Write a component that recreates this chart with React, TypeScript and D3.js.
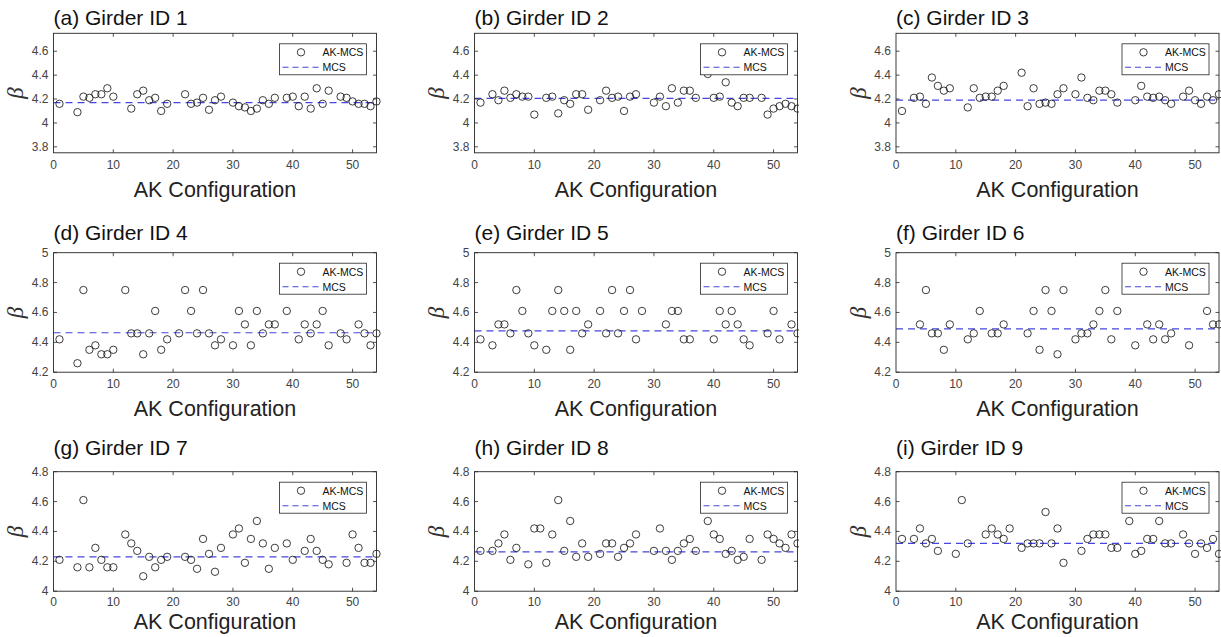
import React from "react";
import * as d3 from "d3";

// ---------- data ----------
const panelTitles = [
  "(a) Girder ID 1", "(b) Girder ID 2", "(c) Girder ID 3",
  "(d) Girder ID 4", "(e) Girder ID 5", "(f) Girder ID 6",
  "(g) Girder ID 7", "(h) Girder ID 8", "(i) Girder ID 9",
];
const xLabel = "AK Configuration";
const legendLabels = ["AK-MCS", "MCS"];
const xTicks = [0, 10, 20, 30, 40, 50];
const xDomain = [0, 54];
const rowYDomains = [[3.75, 4.75], [4.2, 5], [4, 4.8]];
const rowYTicks = [[3.8, 4, 4.2, 4.4, 4.6], [4.2, 4.4, 4.6, 4.8, 5], [4, 4.2, 4.4, 4.6, 4.8]];

const g1Config = [1,4,5,6,7,8,9,10,13,14,15,16,17,18,19,22,23,24,25,26,27,28,30,31,32,33,34,35,36,37,39,40,41,42,43,44,45,46,48,49,50,51,52,53,54];
const g1Beta = [4.16,4.09,4.22,4.21,4.24,4.24,4.29,4.22,4.12,4.24,4.27,4.19,4.21,4.10,4.16,4.24,4.16,4.17,4.21,4.11,4.19,4.22,4.17,4.14,4.13,4.10,4.12,4.19,4.16,4.21,4.21,4.22,4.14,4.22,4.12,4.29,4.16,4.27,4.22,4.21,4.18,4.16,4.16,4.14,4.18];

const g2Config = [1,3,4,5,6,7,8,9,10,12,13,14,15,16,17,18,19,21,22,23,24,25,26,27,30,31,32,33,34,35,36,37,39,40,41,42,43,44,45,46,48,49,50,51,52,53,54];
const g2Beta = [4.17,4.24,4.19,4.27,4.21,4.24,4.22,4.22,4.07,4.21,4.22,4.08,4.19,4.16,4.24,4.24,4.11,4.19,4.27,4.21,4.22,4.10,4.22,4.24,4.17,4.22,4.14,4.29,4.17,4.27,4.27,4.21,4.41,4.21,4.22,4.34,4.17,4.14,4.21,4.21,4.21,4.07,4.12,4.14,4.16,4.14,4.12];

const g3Config = [1,3,4,5,6,7,8,9,12,13,14,15,16,17,18,21,22,23,24,25,26,27,28,30,31,32,33,34,35,36,37,40,41,42,43,44,45,46,48,49,50,51,52,53,54];
const g3Beta = [4.10,4.21,4.22,4.16,4.38,4.31,4.27,4.29,4.13,4.29,4.21,4.22,4.22,4.27,4.31,4.42,4.14,4.29,4.16,4.17,4.16,4.24,4.29,4.24,4.38,4.21,4.19,4.27,4.27,4.24,4.17,4.19,4.31,4.22,4.21,4.22,4.19,4.16,4.22,4.27,4.19,4.16,4.22,4.19,4.24];

const g4Config = [1,4,5,6,7,8,9,10,12,13,14,15,16,17,18,19,21,22,23,24,25,26,27,28,30,31,32,33,34,35,36,37,39,41,42,43,44,45,46,48,49,51,52,53,54];
const g4Beta = [4.42,4.26,4.75,4.35,4.38,4.32,4.32,4.35,4.75,4.46,4.46,4.32,4.46,4.61,4.35,4.42,4.46,4.75,4.61,4.46,4.75,4.46,4.38,4.42,4.38,4.61,4.52,4.38,4.61,4.46,4.52,4.52,4.61,4.42,4.52,4.46,4.52,4.61,4.38,4.46,4.42,4.52,4.46,4.38,4.46];

const g5Config = [1,3,4,5,6,7,8,9,10,12,13,14,15,16,17,18,19,21,22,23,24,25,26,27,28,32,33,34,35,36,40,41,42,43,44,45,46,49,50,51,53,54];
const g5Beta = [4.42,4.38,4.52,4.52,4.46,4.75,4.61,4.46,4.38,4.35,4.61,4.75,4.61,4.35,4.61,4.46,4.52,4.61,4.46,4.75,4.46,4.61,4.75,4.42,4.61,4.52,4.61,4.61,4.42,4.42,4.42,4.61,4.52,4.61,4.52,4.42,4.38,4.46,4.61,4.42,4.52,4.46];

const g6Config = [4,5,6,7,8,9,12,13,14,16,17,18,22,23,24,25,26,27,28,30,31,32,33,34,35,36,37,40,42,43,44,45,46,49,52,53,54];
const g6Beta = [4.52,4.75,4.46,4.46,4.35,4.52,4.42,4.46,4.61,4.46,4.46,4.52,4.46,4.61,4.35,4.75,4.61,4.32,4.75,4.42,4.46,4.46,4.52,4.61,4.75,4.42,4.61,4.38,4.52,4.42,4.52,4.42,4.46,4.38,4.61,4.52,4.52];

const g7Config = [1,4,5,6,7,8,9,10,12,13,14,15,16,17,18,19,22,23,24,25,26,27,28,30,31,32,33,34,35,36,37,39,40,42,43,44,45,46,49,50,51,52,53,54];
const g7Beta = [4.21,4.16,4.61,4.16,4.29,4.21,4.16,4.16,4.38,4.32,4.27,4.10,4.23,4.16,4.21,4.23,4.23,4.21,4.15,4.35,4.25,4.13,4.29,4.38,4.42,4.19,4.35,4.47,4.32,4.15,4.29,4.32,4.21,4.27,4.35,4.27,4.21,4.18,4.19,4.38,4.29,4.19,4.19,4.25];

const g8Config = [1,3,4,5,6,7,9,10,11,12,13,14,15,16,17,18,19,21,22,23,24,25,26,27,30,31,32,33,34,35,36,37,39,40,41,42,43,44,45,46,48,49,50,51,52,53,54];
const g8Beta = [4.27,4.27,4.32,4.38,4.21,4.29,4.18,4.42,4.42,4.19,4.38,4.61,4.27,4.47,4.23,4.32,4.23,4.25,4.32,4.32,4.23,4.29,4.32,4.38,4.27,4.42,4.27,4.21,4.27,4.32,4.35,4.27,4.47,4.38,4.35,4.25,4.27,4.21,4.23,4.35,4.21,4.38,4.35,4.32,4.29,4.38,4.32];

const g9Config = [1,3,4,5,6,7,10,11,12,15,16,17,18,19,21,22,23,24,25,26,27,28,31,32,33,34,35,36,37,39,40,41,42,43,44,45,46,48,49,50,51,52,53,54];
const g9Beta = [4.35,4.35,4.42,4.32,4.35,4.27,4.25,4.61,4.32,4.38,4.42,4.38,4.35,4.42,4.29,4.32,4.32,4.32,4.53,4.32,4.42,4.19,4.27,4.35,4.38,4.38,4.38,4.29,4.29,4.47,4.25,4.27,4.35,4.35,4.47,4.32,4.32,4.38,4.32,4.25,4.32,4.29,4.35,4.25];

const mcsBeta = [4.17, 4.205, 4.19, 4.464, 4.477, 4.49, 4.23, 4.263, 4.32];

const configs = [g1Config, g2Config, g3Config, g4Config, g5Config, g6Config, g7Config, g8Config, g9Config];
const betas = [g1Beta, g2Beta, g3Beta, g4Beta, g5Beta, g6Beta, g7Beta, g8Beta, g9Beta];

// ---------- layout ----------
const W = 1221, H = 637;
const colLeft = [53.5, 474.5, 896];
const plotW = 323;
const colClip = [[0, 400], [400, 799], [800, 1221]];
const rowTop = [33.3, 252.7, 471.7];
const plotH = 119.5;
const titleBase = [25, 240, 455];
const xTickOff = [12, 11.5, 10.5];
const xLabelBase = [196.5, 416, 629];
const FONT = "'Liberation Sans', Arial, Helvetica, sans-serif";
const AX = "#262626";
const TICKC = "#444";
const MCS_COLOR = "#4646dc";

function Panel({ idx }: { idx: number }) {
  const r = Math.floor(idx / 3);
  const c = idx % 3;
  const left = colLeft[c];
  const top = rowTop[r];
  const x = d3.scaleLinear().domain(xDomain).range([left, left + plotW]);
  const y = d3.scaleLinear().domain(rowYDomains[r]).range([top + plotH, top]);
  const bottom = top + plotH;
  const right = left + plotW;
  const tl = 3.5;
  const cfg = configs[idx];
  const bet = betas[idx];
  const legW = 87, legH = 31;
  const legX = right - 10 - legW;
  const legY = top + 10.5;
  const clipId = `clip${idx}`;
  return (
    <g>
      <defs>
        <clipPath id={clipId}>
          <rect x={colClip[c][0]} y={top - 10} width={colClip[c][1] - colClip[c][0]} height={plotH + 20} />
        </clipPath>
      </defs>
      {/* title */}
      <text x={left} y={titleBase[r]} fontFamily={FONT} fontSize={21} fill="#111">{panelTitles[idx]}</text>
      {/* MCS line */}
      <line x1={x(xDomain[0])} x2={x(xDomain[1])} y1={y(mcsBeta[idx])} y2={y(mcsBeta[idx])}
        stroke={MCS_COLOR} strokeWidth={1.2} strokeDasharray="7,5" />
      {/* points */}
      <g clipPath={`url(#${clipId})`}>
        {cfg.map((k, i) => (
          <circle key={i} cx={x(k)} cy={y(bet[i])} r={3.7} fill="none" stroke="#1a1a1a" strokeWidth={0.85} />
        ))}
      </g>
      {/* axes box */}
      <rect x={left} y={top} width={plotW} height={plotH} fill="none" stroke={AX} strokeWidth={0.9} />
      {xTicks.map((t) => (
        <g key={"xt" + t}>
          {t !== 0 && <line x1={x(t)} x2={x(t)} y1={bottom} y2={bottom - tl} stroke={AX} strokeWidth={0.8} />}
          {t !== 0 && <line x1={x(t)} x2={x(t)} y1={top} y2={top + tl} stroke={AX} strokeWidth={0.8} />}
          <text x={x(t)} y={bottom + xTickOff[r]} fontFamily={FONT} fontSize={12} fill={TICKC} textAnchor="middle" dominantBaseline="central">{t}</text>
        </g>
      ))}
      {rowYTicks[r].map((t) => (
        <g key={"yt" + t}>
          <line x1={left} x2={left + tl} y1={y(t)} y2={y(t)} stroke={AX} strokeWidth={0.8} />
          <line x1={right} x2={right - tl} y1={y(t)} y2={y(t)} stroke={AX} strokeWidth={0.8} />
          <text x={left - 5} y={y(t)} fontFamily={FONT} fontSize={12} fill={TICKC} textAnchor="end" dominantBaseline="central">{String(t)}</text>
        </g>
      ))}
      {/* y label */}
      <text transform={`translate(${left - 38},${top + plotH / 2}) rotate(-90)`} fontFamily="'Liberation Serif', 'Times New Roman', serif"
        fontStyle="italic" fontSize={23} fill="#333" textAnchor="middle" dominantBaseline="central">β</text>
      {/* x label */}
      <text x={left + plotW / 2} y={xLabelBase[r]} fontFamily={FONT} fontSize={21.5} fill="#222" textAnchor="middle">{xLabel}</text>
      {/* legend */}
      <rect x={legX} y={legY} width={legW} height={legH} fill="#fff" stroke={AX} strokeWidth={0.8} />
      <circle cx={legX + 21.5} cy={legY + 8.5} r={3.7} fill="none" stroke="#1a1a1a" strokeWidth={0.85} />
      <text x={legX + 43} y={legY + 8.5} fontFamily={FONT} fontSize={10.5} fill="#111" dominantBaseline="central">{legendLabels[0]}</text>
      <line x1={legX + 3} x2={legX + 40} y1={legY + 23.5} y2={legY + 23.5} stroke={MCS_COLOR} strokeWidth={1.1} strokeDasharray="6,4" />
      <text x={legX + 43} y={legY + 23.5} fontFamily={FONT} fontSize={10.5} fill="#111" dominantBaseline="central">{legendLabels[1]}</text>
    </g>
  );
}

export default function App() {
  return (
    <svg width={W} height={H} viewBox={`0 0 ${W} ${H}`}
      style={{ position: "absolute", left: 0, top: 0, background: "#fff", display: "block" }}>
      <rect x={0} y={0} width={W} height={H} fill="#fff" />
      {panelTitles.map((_, i) => <Panel key={i} idx={i} />)}
    </svg>
  );
}
